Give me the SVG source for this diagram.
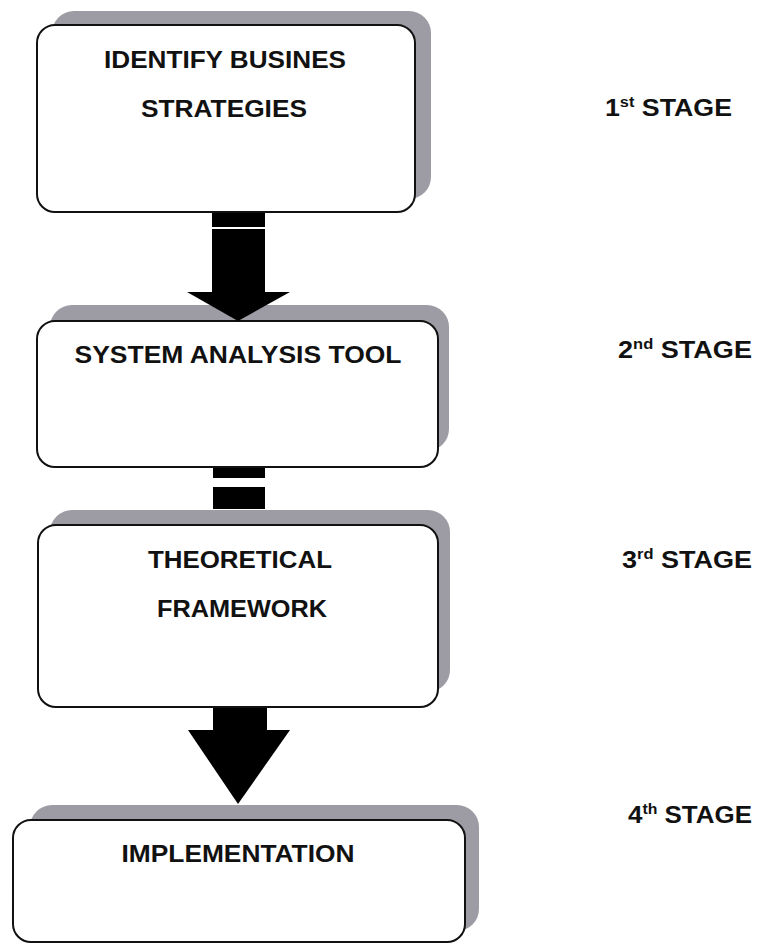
<svg xmlns="http://www.w3.org/2000/svg" width="763" height="943" viewBox="0 0 763 943">
  <style>
    .shadow { fill: #9d9ca4; }
    .box { fill: #ffffff; stroke: #111111; stroke-width: 2; }
    .label { font-family: "Liberation Sans", Arial, sans-serif; font-weight: bold; font-size: 23px; fill: #111111; text-anchor: middle; }
    .stage { font-family: "Liberation Sans", Arial, sans-serif; font-weight: bold; font-size: 23px; fill: #111111; }
    .sup { font-size: 14px; }
    .conn { fill: #000000; }
  </style>

  <rect width="763" height="943" fill="#ffffff"/>

  <!-- stage 1 -->
  <g id="node-strategies">
    <rect class="shadow" x="52" y="11" width="379" height="188" rx="22"/>
    <rect class="box" x="37" y="25" width="378" height="187" rx="18"/>
    <text class="label" x="225" y="68" textLength="242" lengthAdjust="spacingAndGlyphs">IDENTIFY BUSINES</text>
    <text class="label" x="224" y="117" textLength="166" lengthAdjust="spacingAndGlyphs">STRATEGIES</text>
  </g>

  <!-- stage 2 -->
  <g id="node-analysis">
    <rect class="shadow" x="50" y="305" width="399" height="146" rx="22"/>
    <rect class="box" x="37" y="321" width="401" height="146" rx="18"/>
    <text class="label" x="238" y="363" textLength="327" lengthAdjust="spacingAndGlyphs">SYSTEM ANALYSIS TOOL</text>
  </g>

  <!-- stage 3 -->
  <g id="node-framework">
    <rect class="shadow" x="50" y="510" width="400" height="182" rx="22"/>
    <rect class="box" x="38" y="525" width="400" height="182" rx="18"/>
    <text class="label" x="240" y="568" textLength="184" lengthAdjust="spacingAndGlyphs">THEORETICAL</text>
    <text class="label" x="242" y="617" textLength="170" lengthAdjust="spacingAndGlyphs">FRAMEWORK</text>
  </g>

  <!-- stage 4 -->
  <g id="node-implementation">
    <rect class="shadow" x="30" y="805" width="449" height="126" rx="22"/>
    <rect class="box" x="13" y="820" width="452" height="122" rx="18"/>
    <text class="label" x="238" y="862" textLength="233" lengthAdjust="spacingAndGlyphs">IMPLEMENTATION</text>
  </g>

  <!-- connectors between the stages, drawn over the box shadows -->
  <g id="connectors">
    <!-- stage 1 to stage 2: thick arrow with a thin break near the top -->
    <rect class="conn" x="212" y="213" width="53" height="14"/>
    <rect class="conn" x="212" y="229" width="53" height="64"/>
    <polygon class="conn" points="187,292 290,292 238,321"/>
    <!-- stage 2 to stage 3: two short bars -->
    <rect class="conn" x="213" y="468" width="52" height="10"/>
    <rect class="conn" x="213" y="487" width="52" height="22"/>
    <!-- stage 3 to stage 4: thick arrow -->
    <rect class="conn" x="213" y="708" width="54" height="23"/>
    <polygon class="conn" points="188,730 290,730 238,804"/>
  </g>

  <!-- stage captions -->
  <g id="stage-captions">
    <text class="stage" x="605" y="116" textLength="127" lengthAdjust="spacingAndGlyphs">1<tspan class="sup" dy="-9">st</tspan><tspan dy="9"> STAGE</tspan></text>
    <text class="stage" x="618" y="358" textLength="134" lengthAdjust="spacingAndGlyphs">2<tspan class="sup" dy="-9">nd</tspan><tspan dy="9"> STAGE</tspan></text>
    <text class="stage" x="622" y="568" textLength="130" lengthAdjust="spacingAndGlyphs">3<tspan class="sup" dy="-9">rd</tspan><tspan dy="9"> STAGE</tspan></text>
    <text class="stage" x="628" y="823" textLength="124" lengthAdjust="spacingAndGlyphs">4<tspan class="sup" dy="-9">th</tspan><tspan dy="9"> STAGE</tspan></text>
  </g>
</svg>
